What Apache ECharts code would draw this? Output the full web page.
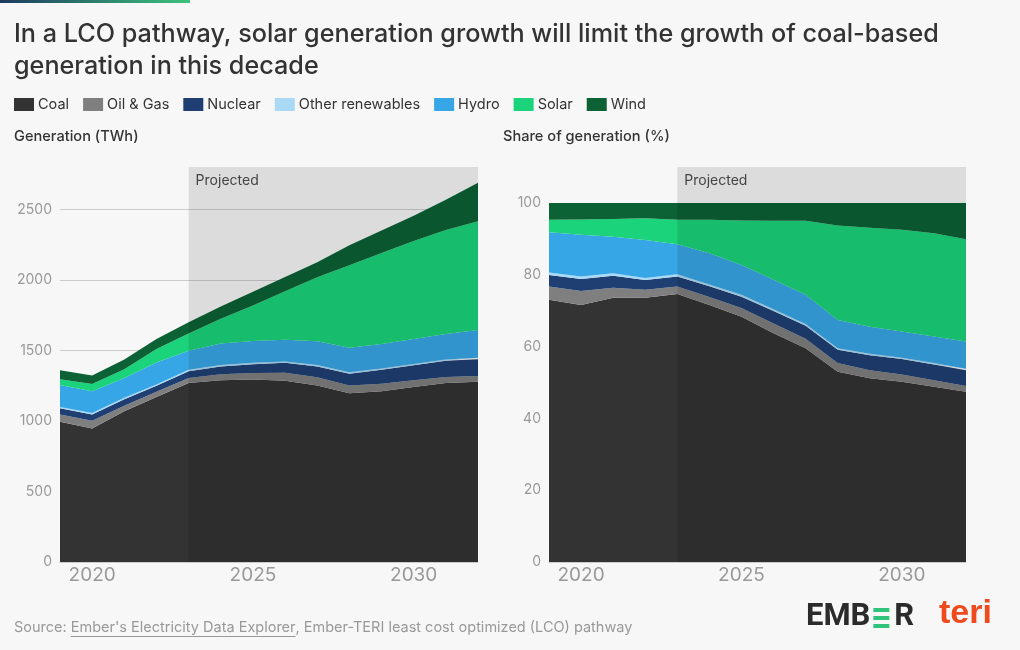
<!DOCTYPE html>
<html>
<head>
<meta charset="utf-8">
<script src="https://cdn.jsdelivr.net/npm/echarts@6/dist/echarts.min.js"></script>
<style>
html,body{margin:0;padding:0;background:#f7f7f7;}
#c{width:1020px;height:650px;}
</style>
</head>
<body>
<div id="c"></div>
<script>
// ---- data ----
const years = ['2019','2020','2021','2022','2023','2024','2025','2026','2027','2028','2029','2030','2031','2032'];
const xTickLabels = ['2020','2025','2030'];
const projectedStart = '2023';
const projectedEnd = '2032';

// Generation (TWh)
const coal      = [995, 947, 1068, 1170, 1268, 1289, 1294, 1284, 1252, 1197, 1210, 1240, 1268, 1277];
const oilGas    = [50, 55, 40, 36, 36, 42, 46, 57, 58, 55, 53, 48, 44, 42];
const nuclear   = [44, 44, 46, 43, 48, 55, 62, 71, 76, 83, 99, 106, 114, 119];
const otherRen  = [10, 10, 10, 10, 10, 10, 10, 10, 10, 10, 10, 10, 10, 10];
const hydro     = [155, 155, 140, 155, 135, 153, 155, 153, 169, 173, 173, 176, 181, 196];
const solar     = [42, 51, 63, 96, 123, 176, 252, 344, 453, 585, 645, 695, 736, 772];
const wind      = [64, 60, 68, 70, 80, 87, 96, 101, 107, 142, 160, 180, 215, 272];

// Share of generation (%)
const coalShare     = [73.0, 71.6, 73.6, 73.6, 74.6, 71.6, 68.3, 63.7, 59.5, 53.0, 51.2, 50.2, 48.8, 47.4];
const oilGasShare   = [3.7, 3.9, 2.8, 2.2, 2.1, 2.2, 2.4, 2.7, 2.7, 2.4, 2.2, 2.0, 1.8, 1.6];
const nuclearShare  = [3.2, 3.3, 3.3, 2.7, 2.8, 3.0, 3.2, 3.5, 3.6, 3.7, 4.2, 4.3, 4.4, 4.4];
const otherRenShare = [0.7, 0.7, 0.7, 0.6, 0.6, 0.5, 0.5, 0.5, 0.5, 0.4, 0.4, 0.4, 0.4, 0.4];
const hydroShare    = [11.2, 11.6, 10.2, 10.6, 8.4, 8.7, 8.3, 8.2, 8.1, 7.9, 7.5, 7.3, 7.4, 7.6];
const solarShare    = [3.5, 4.3, 4.9, 6.0, 6.8, 9.3, 12.4, 16.4, 20.6, 26.3, 27.6, 28.3, 28.75, 28.5];
const windShare     = [4.7, 4.6, 4.5, 4.3, 4.7, 4.7, 4.9, 5.0, 5.0, 6.3, 6.9, 7.5, 8.45, 10.1];

const seriesNames = ['Coal','Oil & Gas','Nuclear','Other renewables','Hydro','Solar','Wind'];
const genData   = [coal, oilGas, nuclear, otherRen, hydro, solar, wind];
const shareData = [coalShare, oilGasShare, nuclearShare, otherRenShare, hydroShare, solarShare, windShare];
const colors = ['#333333','#7f7f7f','#1f3f73','#a9d9f5','#37a6e6','#1ad37a','#0c6135'];

const leftMax = 2800, leftInterval = 500, leftLabelMax = 2500;
const rightMax = 110, rightInterval = 20, rightLabelMax = 100;

// ---- chart ----
const FONT = 'Inter, "Noto Sans", sans-serif';
const chart = echarts.init(document.getElementById('c'), null, {renderer:'canvas'});

function measure(text, font){
  const cv = document.createElement('canvas').getContext('2d');
  cv.font = font; return cv.measureText(text).width;
}

function projMarkArea(max){
  return {
    silent:true, z:10,
    itemStyle:{color:'rgba(0,0,0,0.105)'},
    label:{show:true, position:'insideTopLeft', distance:7, color:'#444444', fontSize:14, fontFamily:FONT},
    data:[[{name:'Projected', xAxis:projectedStart, yAxis:max},{xAxis:projectedEnd, yAxis:0}]]
  };
}

function areaSeries(name, data, idx, gi, stack, max){
  const s = {
    name, type:'line', stack, data,
    xAxisIndex:gi, yAxisIndex:gi,
    symbol:'none', showSymbol:false,
    lineStyle:{width:0},
    areaStyle:{color:colors[idx], opacity:1},
    itemStyle:{color:colors[idx]},
    emphasis:{disabled:true},
    z:2
  };
  if (idx === seriesNames.length - 1) s.markArea = projMarkArea(max);
  return s;
}

const series = [];
seriesNames.forEach((n,i)=>series.push(areaSeries(n, genData[i], i, 0, 'gen', leftMax)));
seriesNames.forEach((n,i)=>series.push(areaSeries(n, shareData[i], i, 1, 'share', rightMax)));

function xAxisCfg(gi){
  return {
    type:'category', gridIndex:gi, data:years, boundaryGap:false,
    axisLine:{show:true, lineStyle:{color:'#cccccc', width:1}},
    axisTick:{show:false},
    axisLabel:{
      interval:(i,v)=>xTickLabels.indexOf(v)>=0,
      color:'#999999', fontSize:19, fontFamily:FONT, margin:4
    },
    splitLine:{show:false}
  };
}

const srcPrefix = 'Source: ';
const srcLink = "Ember's Electricity Data Explorer";
const srcRest = ', Ember-TERI least cost optimized (LCO) pathway';
const srcFont = '14.5px ' + FONT;
const wPrefix = measure(srcPrefix, srcFont);
const wLink = measure(srcLink, srcFont);

const logoFont = 'bold 31px Roboto, sans-serif';
const wEMB = measure('EMB', logoFont);

chart.setOption({
  backgroundColor:'#f7f7f7',
  animation:false,
  textStyle:{fontFamily:FONT},
  title:{
    text:'In a LCO pathway, solar generation growth will limit the growth of coal-based\ngeneration in this decade',
    left:14, top:18, padding:0,
    textStyle:{fontSize:25.2, fontWeight:500, color:'#333333', lineHeight:32, fontFamily:FONT}
  },
  legend:{
    data:seriesNames, left:14, top:97, icon:'rect', padding:0,
    itemWidth:20, itemHeight:13, itemGap:14,
    textStyle:{color:'#333333', fontSize:14.5, fontFamily:FONT, padding:[0,0,0,-1]},
    selectedMode:false
  },
  grid:[
    {left:60, top:167, width:418, height:395, containLabel:false},
    {left:549, top:167, width:417, height:395, containLabel:false}
  ],
  xAxis:[xAxisCfg(0), xAxisCfg(1)],
  yAxis:[
    {type:'value', gridIndex:0, min:0, max:leftMax, interval:leftInterval,
     axisLine:{show:false}, axisTick:{show:false},
     axisLabel:{color:'#999999', fontSize:14, fontFamily:FONT, margin:8,
       formatter:v=> v>leftLabelMax ? '' : String(v)},
     splitLine:{show:true, showMaxLine:false, showMinLine:false, lineStyle:{color:'#cccccc', width:1}}
    },
    {type:'value', gridIndex:1, min:0, max:rightMax, interval:rightInterval,
     axisLine:{show:false}, axisTick:{show:false},
     axisLabel:{color:'#999999', fontSize:14, fontFamily:FONT, margin:8,
       formatter:v=> v>rightLabelMax ? '' : String(v)},
     splitLine:{show:false}
    }
  ],
  graphic:[
    {type:'rect', left:0, top:0, shape:{width:190, height:3},
     style:{fill:new echarts.graphic.LinearGradient(0,0,1,0,[{offset:0,color:'#1f3a5f'},{offset:1,color:'#3cc47c'}])}},
    {type:'text', left:14, top:129, style:{text:'Generation (TWh)', fill:'#333333', font:'500 14.6px '+FONT}},
    {type:'text', left:503, top:129, style:{text:'Share of generation (%)', fill:'#333333', font:'500 14.6px '+FONT}},
    {type:'text', left:14, top:620, style:{text:srcPrefix, fill:'#999999', font:srcFont}},
    {type:'text', left:14+wPrefix, top:620, style:{text:srcLink, fill:'#999999', font:srcFont}},
    {type:'line', shape:{x1:14+wPrefix, y1:636.5, x2:14+wPrefix+wLink, y2:636.5}, style:{stroke:'#999999', lineWidth:1}},
    {type:'text', left:14+wPrefix+wLink, top:620, style:{text:srcRest, fill:'#999999', font:srcFont}},
    // EMBER logo
    {type:'text', left:806, top:602, style:{text:'EMB', fill:'#2b2b2b', font:logoFont}},
    {type:'rect', left:806+wEMB+3, top:608, shape:{width:16, height:4}, style:{fill:'#2fc47a'}},
    {type:'rect', left:806+wEMB+3, top:616, shape:{width:16, height:4}, style:{fill:'#2fc47a'}},
    {type:'rect', left:806+wEMB+3, top:624, shape:{width:16, height:4}, style:{fill:'#2fc47a'}},
    {type:'text', left:806+wEMB+24, top:602, style:{text:'R', fill:'#2b2b2b', font:logoFont}},
    // teri logo
    {type:'text', left:939, top:597, style:{text:'teri', font:'bold 34px "Liberation Sans Narrow", "Liberation Sans", sans-serif', fill:'#ee4a1e'}}
  ],
  series
});
</script>
</body>
</html>
